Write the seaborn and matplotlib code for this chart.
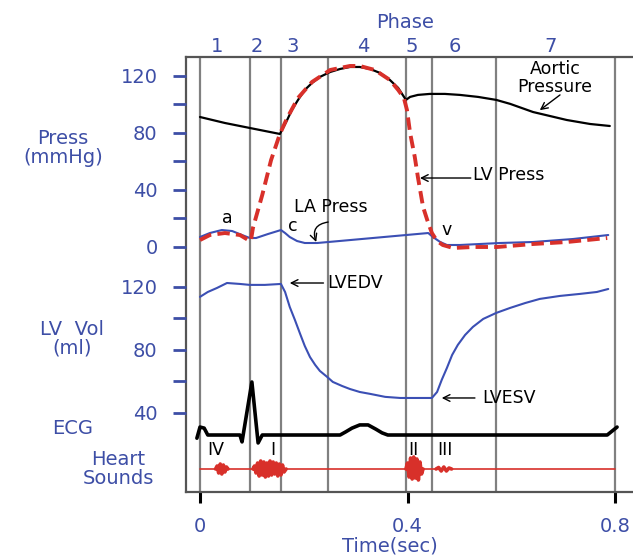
import matplotlib
matplotlib.use('Agg')
import matplotlib.pyplot as plt
import seaborn as sns

# --- data (time in sec) ---
phase_bounds = [0.0, 0.096, 0.156, 0.247, 0.397, 0.447, 0.570, 0.80]
phase_names = ['1', '2', '3', '4', '5', '6', '7']
phase_label_t = [0.033, 0.110, 0.179, 0.314, 0.409, 0.492, 0.675]

aortic_t = [0.0, 0.048, 0.096, 0.154, 0.160, 0.168, 0.177, 0.189, 0.202, 0.216,
            0.231, 0.251, 0.270, 0.289, 0.308, 0.328, 0.347, 0.366, 0.382, 0.397,
            0.405, 0.420, 0.443, 0.472, 0.501, 0.536, 0.571, 0.598, 0.642, 0.707,
            0.752, 0.790]
aortic_p = [91.2, 87, 83.5, 79.3, 83.5, 89.1, 96.1, 103.2, 110.2, 115.1,
            119.3, 122.8, 124.9, 126.3, 126.3, 124.9, 122.1, 117.2, 111.6, 103.2,
            105.3, 106.7, 107.4, 107.4, 106.7, 105.3, 103.2, 100.4, 94.7, 89.1,
            86.3, 84.9]

lv_t = [0.0, 0.019, 0.048, 0.077, 0.093, 0.098, 0.102, 0.120, 0.137, 0.154,
        0.168, 0.189, 0.216, 0.251, 0.289, 0.308, 0.337, 0.366, 0.382, 0.393,
        0.399, 0.405, 0.414, 0.420, 0.430, 0.438, 0.447, 0.457, 0.468, 0.488,
        0.526, 0.573, 0.642, 0.707, 0.785]
lv_p = [4.9, 8.4, 9.8, 8.4, 4.9, 4.2, 13.3, 36.5, 61, 79.3,
        90.5, 104.6, 115.8, 124.2, 127, 127, 124.2, 117.2, 110.2, 104.6,
        96.1, 80, 63.2, 49.1, 28.1, 19, 9.8, 4.2, 1.4, -0.7,
        0, 0, 2.1, 3.5, 6.3]

la_t = [0.0, 0.019, 0.042, 0.062, 0.081, 0.096, 0.108, 0.131, 0.156, 0.164,
        0.173, 0.187, 0.202, 0.226, 0.440, 0.449, 0.463, 0.476, 0.501, 0.578,
        0.642, 0.719, 0.787]
la_p = [7, 9.8, 11.9, 11.2, 8.4, 6.3, 6.3, 9.1, 11.9, 9.8,
        7, 4.2, 2.8, 2.8, 9.8, 7, 3.5, 1.4, 1.4, 2.8,
        3.5, 5.6, 8.4]

vol_t = [0.0, 0.015, 0.033, 0.052, 0.077, 0.096, 0.125, 0.156, 0.164, 0.173,
         0.183, 0.193, 0.202, 0.212, 0.222, 0.231, 0.245, 0.256, 0.274, 0.289,
         0.308, 0.328, 0.357, 0.386, 0.447, 0.457, 0.466, 0.476, 0.486, 0.497,
         0.511, 0.526, 0.546, 0.571, 0.598, 0.627, 0.655, 0.694, 0.733, 0.765,
         0.787]
vol_ml = [113.7, 116.8, 119.4, 122.5, 121.9, 121.3, 121.3, 121.9, 116.8, 107.3,
          99.0, 90.2, 82.5, 75.5, 70.5, 66.7, 62.9, 59.7, 57.1, 55.2,
          53.3, 52.1, 50.2, 49.5, 49.5, 53.3, 61, 68.6, 76.8, 83.2,
          89.5, 94.6, 99.7, 103.5, 106.7, 109.8, 112.4, 114.3, 115.6, 116.8,
          118.7]

ecg_t = [-0.006, 0.0, 0.008, 0.015, 0.077, 0.081, 0.100, 0.112, 0.120,
         0.270, 0.281, 0.293, 0.308, 0.324, 0.339, 0.351, 0.362, 0.785, 0.804]
ecg_mv = [-0.06, 0.15, 0.13, 0.0, 0.0, -0.13, 1.0, -0.15, 0.0,
          0.0, 0.06, 0.13, 0.19, 0.19, 0.11, 0.04, 0.0, 0.0, 0.15]

hs_base_t = [0.0, 0.80]
hs_base_v = [0, 0]
s4_t = [0.030, 0.033, 0.036, 0.039, 0.042, 0.045, 0.048, 0.051, 0.054]
s4_v = [0, 3, -4, 5, -5, 4, -3, 2, 0]
s1_t = [0.102, 0.105, 0.108, 0.111, 0.114, 0.117, 0.120, 0.123, 0.126, 0.129, 0.132,
        0.135, 0.138, 0.141, 0.144, 0.147, 0.150, 0.153, 0.156, 0.159, 0.162, 0.166]
s1_v = [0, 3, -4, 6, -7, 8, -6, 7, -8, 6, -7, 8, -6, 7, -5, 6, -7, 5, -6, 4, -3, 0]
s2_t = [0.397, 0.400, 0.403, 0.406, 0.409, 0.412, 0.415, 0.418, 0.421, 0.424,
        0.427, 0.430]
s2_v = [0, 6, -8, 11, -10, 12, -9, 10, -11, 7, -5, 0]
s3_t = [0.455, 0.460, 0.465, 0.470, 0.475, 0.480, 0.485]
s3_v = [0, 1.5, -2, 2, -2, 1, 0]

BLUE = '#3D4EA6'
CURVE_BLUE = '#3B4FB4'
RED = '#D8302A'
GRID = '#808080'
W, H = 633, 557

sns.set_theme(style='white')
plt.rcParams['font.family'] = ['DejaVu Sans']

fig = plt.figure(figsize=(W / 100, H / 100), dpi=100)
rect = [186 / W, 1 - 492 / H, (W - 186) / W, 435 / H]
xlim = (-0.027, 0.8347)


def overlay(ylim):
    a = fig.add_axes(rect)
    a.patch.set_alpha(0)
    for s in a.spines.values():
        s.set_visible(False)
    a.set_xlim(*xlim)
    a.set_ylim(*ylim)
    a.tick_params(bottom=False, labelbottom=False, left=False, labelleft=False)
    return a


# frame axes
ax = fig.add_axes(rect)
ax.set_xlim(*xlim)
ax.set_ylim(0, 1)
ax.spines['right'].set_visible(False)
for s in ['left', 'top', 'bottom']:
    ax.spines[s].set_color('#555555')
    ax.spines[s].set_linewidth(1.6)
ax.set_yticks([])
ax.set_xticks([0, 0.4, 0.8])
ax.set_xticklabels(['0', '0.4', '0.8'])
ax.tick_params(axis='x', bottom=True, direction='out', length=8, width=2.2,
               color='black', labelcolor=BLUE, labelsize=14, pad=10)
for t in phase_bounds:
    ax.axvline(t, color=GRID, lw=1.6, zorder=1)
for lab, t in zip(phase_names, phase_label_t):
    ax.text(t, 1.025, lab, transform=ax.get_xaxis_transform(), ha='center',
            va='center', color=BLUE, fontsize=14)
ax.text(0.395, 1.080, 'Phase', transform=ax.get_xaxis_transform(), ha='center',
        va='center', color=BLUE, fontsize=14)

# pressure axes
axp = overlay((-171.9, 133.3))
axp.tick_params(left=True, labelleft=True, axis='y', direction='out', length=9.5,
                width=2, color=BLUE, labelcolor=BLUE, labelsize=14, pad=11)
axp.set_yticks([0, 20, 40, 60, 80, 100, 120])
axp.set_yticklabels(['0', '', '40', '', '80', '', '120'])
sns.lineplot(x=aortic_t, y=aortic_p, ax=axp, color='black', lw=1.6, sort=False)
sns.lineplot(x=la_t, y=la_p, ax=axp, color=CURVE_BLUE, lw=1.5, sort=False)
sns.lineplot(x=lv_t, y=lv_p, ax=axp, color=RED, lw=2.8, sort=False,
             linestyle=(0, (3.2, 1.6)))

tk = dict(color='black', fontsize=12.5)
arrow = dict(arrowstyle='->', color='black', lw=1.0, shrinkA=0, shrinkB=0)
axp.text(0.684, 118.5, 'Aortic\nPressure', ha='center', va='center',
         linespacing=0.95, **tk)
axp.annotate('', xy=(0.655, 96), xytext=(0.694, 106.7), arrowprops=arrow)
axp.text(0.526, 50.5, 'LV Press', ha='left', va='center', **tk)
axp.annotate('', xy=(0.424, 48.4), xytext=(0.522, 48.4), arrowprops=arrow)
axp.text(0.182, 28, 'LA Press', ha='left', va='center', **tk)
axp.text(0.178, 14.5, 'c', ha='center', va='center', **tk)
axp.annotate('', xy=(0.224, 3.5), xytext=(0.247, 17.5),
             arrowprops=dict(arrow, connectionstyle='arc3,rad=0.6'))
axp.text(0.052, 20, 'a', ha='center', va='center', **tk)
axp.text(0.476, 12, 'v', ha='center', va='center', **tk)

# volume axes
axv = overlay((-10.2, 266.0))
axv.tick_params(left=True, labelleft=True, axis='y', direction='out', length=9.5,
                width=2, color=BLUE, labelcolor=BLUE, labelsize=14, pad=11)
axv.set_yticks([40, 60, 80, 100, 120])
axv.set_yticklabels(['40', '', '80', '', '120'])
axv.yaxis.get_major_ticks()[1].tick1line.set_color('black')
sns.lineplot(x=vol_t, y=vol_ml, ax=axv, color=CURVE_BLUE, lw=1.5, sort=False)
axv.text(0.245, 122.5, 'LVEDV', ha='left', va='center', **tk)
axv.annotate('', xy=(0.173, 122.5), xytext=(0.238, 122.5), arrowprops=arrow)
axv.text(0.544, 49.5, 'LVESV', ha='left', va='center', **tk)
axv.annotate('', xy=(0.466, 49.5), xytext=(0.530, 49.5), arrowprops=arrow)

# ECG axes
axe = overlay((-1.075, 7.13))
sns.lineplot(x=ecg_t, y=ecg_mv, ax=axe, color='black', lw=2.6, sort=False)

# heart sounds axes
axh = overlay((-23, 412))
sns.lineplot(x=hs_base_t, y=hs_base_v, ax=axh, color=RED, lw=1.2, sort=False)
for st, sv in [(s4_t, s4_v), (s1_t, s1_v), (s2_t, s2_v), (s3_t, s3_v)]:
    sns.lineplot(x=st, y=sv, ax=axh, color=RED, lw=2.6, sort=False)
for lab, t in [('IV', 0.031), ('I', 0.14), ('II', 0.411), ('III', 0.472)]:
    axh.text(t, 19, lab, ha='center', va='center', **tk)


def ftext(px, py, s, **kw):
    fig.text(px / W, 1 - py / H, s, ha='center', va='center', color=BLUE,
             fontsize=14, multialignment='center', linespacing=0.95, **kw)


ftext(63, 148, 'Press\n(mmHg)')
ftext(72, 339, 'LV  Vol\n(ml)')
ftext(73, 429, 'ECG')
ftext(118, 469, 'Heart\nSounds')
ftext(390, 546, 'Time(sec)')

plt.savefig('out.png', dpi=100)
